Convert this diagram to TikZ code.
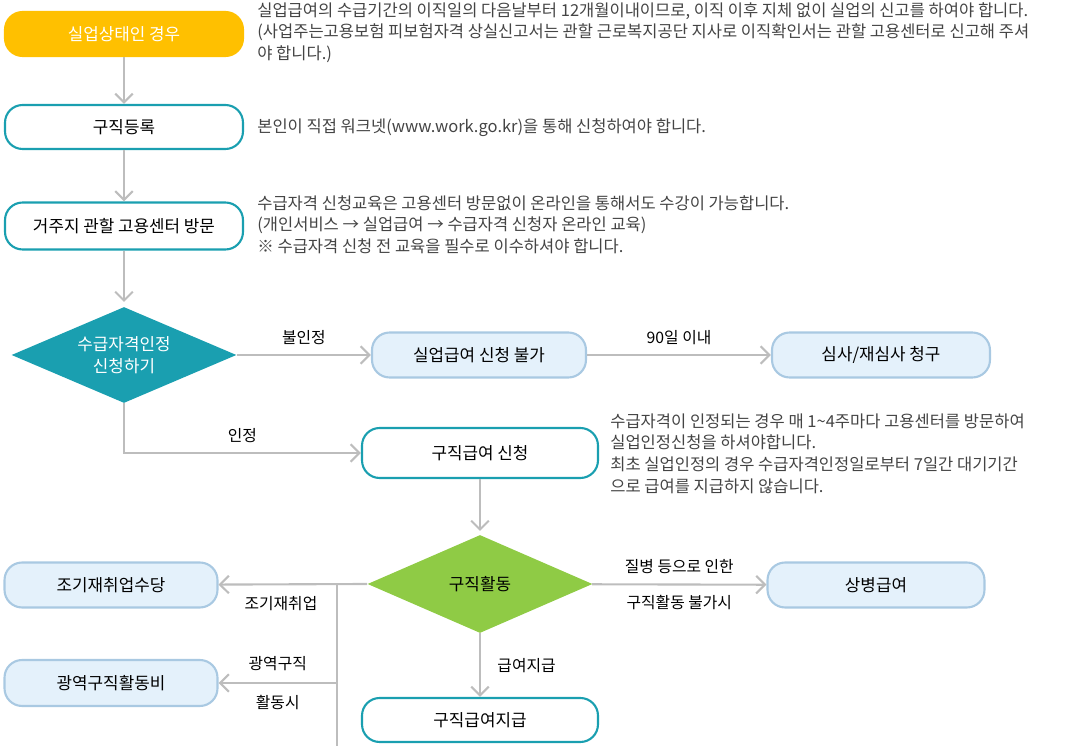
\documentclass[tikz,border=0pt]{standalone}
\usepackage{fontspec}
\setmainfont{Noto Sans CJK KR}
\usetikzlibrary{shapes.geometric,arrows.meta}
\definecolor{yel}{HTML}{FFC000}
\definecolor{teal1}{HTML}{1A9FB0}
\definecolor{lblue}{HTML}{E4F1FB}
\definecolor{lbord}{HTML}{A9C9E2}
\definecolor{grn}{HTML}{8FCB45}
\definecolor{arr}{HTML}{BDBDBD}
\definecolor{txt}{HTML}{444444}
\tikzset{
  box/.style={draw=teal1, line width=1.2pt, fill=white, rounded corners=10pt, font=\fontsize{9.6}{11}\selectfont, text=black},
  pale/.style={draw=lbord, line width=1.2pt, fill=lblue, rounded corners=10pt, font=\fontsize{9.6}{11}\selectfont, text=black},
  note/.style={anchor=north west, align=left, text=txt, font=\fontsize{9.4}{12.4}\selectfont, inner sep=0pt},
  lab/.style={text=black, font=\fontsize{9}{10}\selectfont},
  flow/.style={arr, line width=1.2pt, -{Straight Barb[length=5pt,width=10pt]}},
  line/.style={arr, line width=1.2pt}
}
\begin{document}
\begin{tikzpicture}[x=0.02cm,y=-0.02cm]
\useasboundingbox (0,0) rectangle (1080,746);
% left column
\node[box, draw=yel, fill=yel, text=white, minimum width=4.76cm, minimum height=0.88cm] (start) at (124,34) {실업상태인 경우};
\node[box, minimum width=4.76cm, minimum height=0.88cm] (reg) at (124,127) {구직등록};
\node[box, minimum width=4.76cm, minimum height=0.94cm] (visit) at (124,226) {거주지 관할 고용센터 방문};
\node[diamond, fill=teal1, text=white, minimum width=4.5cm, minimum height=1.92cm, aspect=2.35, inner sep=0pt, align=center, font=\fontsize{9.6}{12.5}\selectfont] (apply) at (124,355) {수급자격인정\\신청하기};
% upper right
\node[pale, minimum width=4.28cm, minimum height=0.9cm] (deny) at (479,355) {실업급여 신청 불가};
\node[pale, minimum width=4.36cm, minimum height=0.9cm] (review) at (881,355) {심사/재심사 청구};
\node[box, minimum width=4.72cm, minimum height=1cm] (claim) at (480,453) {구직급여 신청};
\node[diamond, fill=grn, text=black, minimum width=4.5cm, minimum height=1.96cm, aspect=2.3, inner sep=0pt, font=\fontsize{9.6}{11}\selectfont] (job) at (480,584) {구직활동};
\node[pale, minimum width=4.34cm, minimum height=0.9cm] (sick) at (876,585) {상병급여};
\node[box, minimum width=4.72cm, minimum height=0.88cm] (pay) at (480,720) {구직급여지급};
\node[pale, minimum width=4.26cm, minimum height=0.9cm] (early) at (111,585) {조기재취업수당};
\node[pale, minimum width=4.26cm, minimum height=0.92cm] (wide) at (111,683) {광역구직활동비};
% connectors
\draw[flow] (start) -- (reg);
\draw[flow] (reg) -- (visit);
\draw[flow] (visit) -- (124,302);
\draw[flow] (apply) -- node[lab, above=2pt] {불인정} (deny);
\draw[flow] (deny) -- node[lab, above=2pt] {90일 이내} (review);
\draw[flow] (apply.south) |- node[lab, pos=0.75, above=2pt] {인정} (claim);
\draw[flow] (claim) -- (480,531);
\draw[flow] (job) -- node[lab, above=2pt] {질병 등으로 인한} node[lab, below=2pt] {구직활동 불가시} (sick);
\draw[flow] (job) -- node[lab, right=6pt] {급여지급} (pay);
\draw[flow] (job.west) -- node[lab, pos=0.58, below=3pt] {조기재취업} (early);
\coordinate (bend) at (337,683);
\draw[line] (337,584) -- (337,746);
\draw[flow] (bend) -- node[lab, above=3pt] {광역구직} node[lab, below=3pt] {활동시} (wide);
% notes
\node[note] (n1) at (257,2) {실업급여의 수급기간의 이직일의 다음날부터 12개월이내이므로, 이직 이후 지체 없이 실업의 신고를 하여야 합니다.\\(사업주는고용보험 피보험자격 상실신고서는 관할 근로복지공단 지사로 이직확인서는 관할 고용센터로 신고해 주셔\\야 합니다.)};
\node[note] (n2) at (257,118) {본인이 직접 워크넷(www.work.go.kr)을 통해 신청하여야 합니다.};
\node[note] (n3) at (257,195) {수급자격 신청교육은 고용센터 방문없이 온라인을 통해서도 수강이 가능합니다.\\(개인서비스 → 실업급여 → 수급자격 신청자 온라인 교육)\\※ 수급자격 신청 전 교육을 필수로 이수하셔야 합니다.};
\node[note] (n4) at (610,413) {수급자격이 인정되는 경우 매 1\textasciitilde4주마다 고용센터를 방문하여\\실업인정신청을 하셔야합니다.\\최초 실업인정의 경우 수급자격인정일로부터 7일간 대기기간\\으로 급여를 지급하지 않습니다.};
\end{tikzpicture}
\end{document}
